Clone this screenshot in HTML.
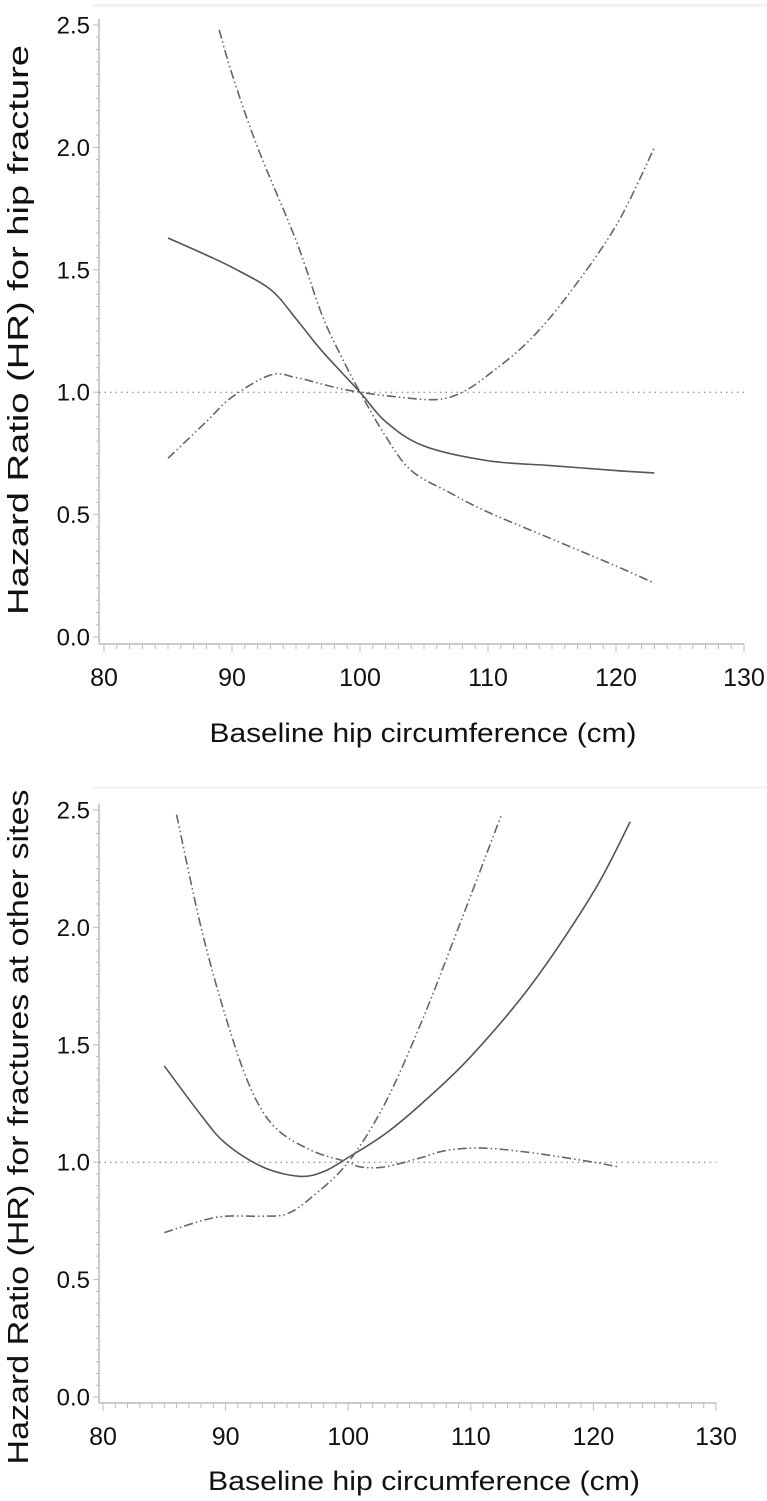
<!DOCTYPE html>
<html><head><meta charset="utf-8"><style>
body{margin:0;background:#fff;}
svg{display:block;font-family:"Liberation Sans",sans-serif;}
</style></head><body>
<svg id="chart" width="767" height="1501" viewBox="0 0 767 1501" xmlns="http://www.w3.org/2000/svg">
<rect x="92" y="4" width="675" height="3" fill="#f3f3f3"/>
<rect x="92" y="786" width="675" height="3" fill="#f3f3f3"/>
</svg>
<script>
const xTicks=[80,90,100,110,120,130];
const yTicks=[0.0,0.5,1.0,1.5,2.0,2.5];
const yTickLabels=["0.0","0.5","1.0","1.5","2.0","2.5"];
const topTitle="Hazard Ratio (HR) for hip fracture";
const bottomTitle="Hazard Ratio (HR) for fractures at other sites";
const xTitle="Baseline hip circumference (cm)";
const hipX=[85,88,90,93,95,97,100,102,105,110,115,120,123];
const hipHR=[1.63,1.56,1.51,1.42,1.30,1.17,1.0,0.88,0.78,0.72,0.70,0.68,0.67];
const hipUpperX=[89,90,92,95,97,98.5,100,102,104,107,110,115,120,123];
const hipUpper=[2.48,2.3,2.0,1.62,1.32,1.15,1.0,0.82,0.68,0.59,0.51,0.40,0.29,0.22];
const hipLowerX=[85,88,90,93,95,98,100,103,106,108,110,113,116,120,123];
const hipLower=[0.73,0.88,0.98,1.07,1.06,1.02,1.0,0.98,0.97,1.0,1.07,1.2,1.38,1.68,2.0];
const othX=[85,88,90,93,96,98,100,103,106,110,115,120,123];
const othHR=[1.41,1.2,1.08,0.98,0.94,0.96,1.02,1.12,1.25,1.45,1.76,2.15,2.45];
const othAX=[86,88,90,92,94,97,100,101,103,106,108,111,115,120,122];
const othA=[2.48,2.0,1.62,1.32,1.15,1.05,1.0,0.98,0.98,1.02,1.05,1.06,1.04,1.0,0.98];
const othBX=[85,88,90,93,95,97,100,103,106,109,112.5];
const othB=[0.70,0.75,0.77,0.77,0.78,0.85,1.0,1.25,1.6,2.0,2.48];

const svg=document.getElementById('chart');
const NS="http://www.w3.org/2000/svg";
function mk(tag,attrs){const e=document.createElementNS(NS,tag);for(const k in attrs)e.setAttribute(k,attrs[k]);svg.appendChild(e);return e;}

function panel(p,title,series,prefix){
  const sx=v=>p.x0+(v-80)*(p.x1-p.x0)/50;
  const sy=v=>p.y0-v*(p.y0-p.y25)/2.5;
  let ax=mk('line',{x1:p.ax,y1:p.y25-6,x2:p.ax,y2:p.axY,stroke:'#bbb','stroke-width':1.5});
  
  
  let bx=mk('line',{x1:p.ax,y1:p.axY,x2:sx(130),y2:p.axY,stroke:'#bbb','stroke-width':1.5});
  
  
  for(let v=0;v<=2.5001;v+=0.05){const y=sy(v);const major=Math.abs(v*2-Math.round(v*2))<1e-6;
    mk('line',{x1:p.ax-(major?6:3),y1:y,x2:p.ax,y2:y,stroke:'#bbb','stroke-width':1});}
  for(let v=80;v<=130;v++){const x=sx(v);const major=v%10===0;
    mk('line',{x1:x,y1:p.axY,x2:x,y2:p.axY+(major?8:5),stroke:'#bbb','stroke-width':1});}
  yTicks.forEach((v,i)=>{const t=mk('text',{x:p.ax-9,y:sy(v)+8.5,'text-anchor':'end','font-size':24,fill:'#111'});
    t.textContent=yTickLabels[i];
    
    });
  xTicks.forEach(v=>{const t=mk('text',{x:sx(v),y:p.axY+42,'text-anchor':'middle','font-size':25,fill:'#111'});
    t.textContent=String(v);
    
    });
  const xt=mk('text',{x:p.xtX,y:p.xtY,'text-anchor':'middle','font-size':27,fill:'#111',textLength:p.xtLen,lengthAdjust:'spacingAndGlyphs'});
  xt.textContent=xTitle;
  
  
  const yt=mk('text',{x:0,y:0,'text-anchor':'middle','font-size':29,fill:'#111',textLength:p.ytLen,lengthAdjust:'spacingAndGlyphs',transform:`translate(28,${p.ytY}) rotate(-90)`});
  yt.textContent=title;
  
  
  const ref=mk('line',{x1:p.ax,y1:sy(1),x2:sx(130),y2:sy(1),stroke:'#777','stroke-width':1,'stroke-dasharray':'1.5,4'});
  
  
  series.forEach(s=>{
    const pts=s.x.map((v,i)=>[sx(v),sy(s.y[i])]);
    let d='M'+pts[0][0]+','+pts[0][1];
    for(let i=0;i<pts.length-1;i++){
      const p0=pts[Math.max(0,i-1)],p1=pts[i],p2=pts[i+1],p3=pts[Math.min(pts.length-1,i+2)];
      const c1=[p1[0]+(p2[0]-p0[0])/6,p1[1]+(p2[1]-p0[1])/6];
      const c2=[p2[0]-(p3[0]-p1[0])/6,p2[1]-(p3[1]-p1[1])/6];
      d+=` C${c1[0]},${c1[1]} ${c2[0]},${c2[1]} ${p2[0]},${p2[1]}`;
    }
    const path=mk('path',{d:d,fill:'none',stroke:s.dash?'#666':'#555','stroke-width':1.6,'stroke-dasharray':s.dash?'9,3,1.5,3,1.5,3':'none'});
    
    
  });
}
panel({x0:104,x1:744,y0:637,y25:25,ax:99,axY:644,xtX:423,xtY:742,xtLen:427,ytY:330,ytLen:570},topTitle,[
  {x:hipX,y:hipHR,name:'hip-hr-line'},
  {x:hipUpperX,y:hipUpper,dash:1,name:'hip-ci-upper-line'},
  {x:hipLowerX,y:hipLower,dash:1,name:'hip-ci-lower-line'}],'top');
panel({x0:103,x1:716,y0:1397,y25:810,ax:99,axY:1403,xtX:424,xtY:1490,xtLen:432,ytY:1127,ytLen:675},bottomTitle,[
  {x:othX,y:othHR,name:'other-hr-line'},
  {x:othAX,y:othA,dash:1,name:'other-ci-a-line'},
  {x:othBX,y:othB,dash:1,name:'other-ci-b-line'}],'bottom');
</script>
</body></html>
